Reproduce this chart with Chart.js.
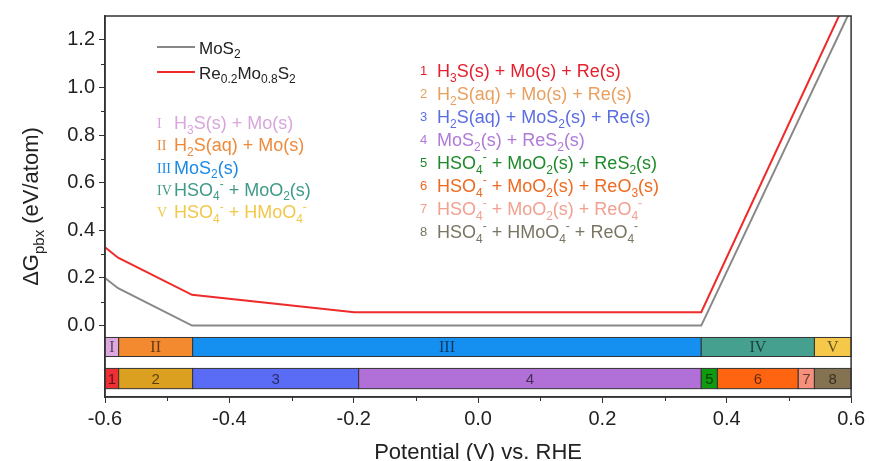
<!DOCTYPE html>
<html>
<head>
<meta charset="utf-8">
<script src="https://cdn.jsdelivr.net/npm/chart.js@4.4.1/dist/chart.umd.min.js"></script>
<style>
  html, body { margin: 0; padding: 0; background: #fff; }
  canvas { display: block; }
</style>
</head>
<body>
<canvas id="pbx" width="869" height="461"></canvas>
<script>
// Pourbaix decomposition energy vs potential

const FONT = '"Liberation Sans", Arial, sans-serif';
const SERIF = '"Liberation Serif", "Times New Roman", serif';

// line data
const mos2X = [-0.6, -0.579, -0.46, 0.359, 0.6];
const mos2Y = [0.2, 0.157, 0.0, 0.0, 1.33];
const reX = [-0.6, -0.579, -0.46, -0.199, 0.359, 0.6];
const reY = [0.329, 0.285, 0.129, 0.056, 0.056, 1.41];

// phase regions (boundaries in V)
const mos2Edges = [-0.6, -0.578, -0.459, 0.359, 0.541, 0.6];
const mos2Labels = ['I', 'II', 'III', 'IV', 'V'];
const mos2Colors = ['#dda8e0', '#f48a30', '#1590f0', '#45a090', '#f5c84a'];
const reEdges = [-0.6, -0.578, -0.459, -0.192, 0.359, 0.385, 0.515, 0.541, 0.6];
const reLabels = ['1', '2', '3', '4', '5', '6', '7', '8'];
const reColors = ['#ee2f35', '#dca020', '#5a6cf5', '#b070d8', '#109a10', '#ff6410', '#f7907a', '#857250'];

// axis ticks
const xTicks = [-0.6, -0.4, -0.2, 0.0, 0.2, 0.4, 0.6];
const xMinor = [-0.5, -0.3, -0.1, 0.1, 0.3, 0.5];
const yTicks = [0.0, 0.2, 0.4, 0.6, 0.8, 1.0, 1.2];
const yMinor = [0.1, 0.3, 0.5, 0.7, 0.9, 1.1];

// phase descriptions
const romanText = ['H_{3}S(s) + Mo(s)', 'H_{2}S(aq) + Mo(s)', 'MoS_{2}(s)', 'HSO_{4}^{-} + MoO_{2}(s)', 'HSO_{4}^{-} + HMoO_{4}^{-}'];
const romanTextColors = ['#d8a6dc', '#ee8a3a', '#1a8ae6', '#3f9a88', '#f0c84a'];
const reText = [
    'H_{3}S(s) + Mo(s) + Re(s)',
    'H_{2}S(aq) + Mo(s) + Re(s)',
    'H_{2}S(aq) + MoS_{2}(s) + Re(s)',
    'MoS_{2}(s) + ReS_{2}(s)',
    'HSO_{4}^{-} + MoO_{2}(s) + ReS_{2}(s)',
    'HSO_{4}^{-} + MoO_{2}(s) + ReO_{3}(s)',
    'HSO_{4}^{-} + MoO_{2}(s) + ReO_{4}^{-}',
    'HSO_{4}^{-} + HMoO_{4}^{-} + ReO_{4}^{-}'
];
const reTextColors = ['#e5202e', '#e8a060', '#5a6ee0', '#b07ad8', '#1f8a2a', '#ee6a20', '#f2a090', '#7a7462'];

// text with _{sub} and ^{sup}
function drawRich(ctx, str, x, y, size, color, family, draw) {
    const re = /([_^])\{([^}]*)\}|([^_^]+)/g;
    let m;
    ctx.fillStyle = color;
    ctx.textAlign = 'left';
    ctx.textBaseline = 'alphabetic';
    while ((m = re.exec(str))) {
        if (m[3]) {
            ctx.font = size + 'px ' + family;
            if (draw !== false) ctx.fillText(m[3], x, y);
            x += ctx.measureText(m[3]).width;
        } else {
            const s = Math.round(size * 0.68);
            ctx.font = s + 'px ' + family;
            const dy = m[1] === '_' ? size * 0.25 : -size * 0.42;
            if (draw !== false) ctx.fillText(m[2], x, y + dy);
            x += ctx.measureText(m[2]).width;
        }
    }
    return x;
}

const decor = {
    id: 'decor',
    afterDatasetsDraw(chart) {
        const ctx = chart.ctx;
        const xs = chart.scales.x, ys = chart.scales.y;
        const a = chart.chartArea;
        ctx.save();

        // phase bars
        function bars(edges, labels, colors, yTop, yBot, serif) {
            const t = ys.getPixelForValue(yTop), b = ys.getPixelForValue(yBot);
            for (let i = 0; i < labels.length; i++) {
                const l = xs.getPixelForValue(edges[i]), r = xs.getPixelForValue(edges[i + 1]);
                ctx.fillStyle = colors[i];
                ctx.fillRect(l, t, r - l, b - t);
                ctx.strokeStyle = '#333';
                ctx.lineWidth = 1;
                ctx.strokeRect(l, t, r - l, b - t);
                ctx.fillStyle = 'rgba(0,0,0,0.6)';
                ctx.font = serif ? '16px ' + SERIF : '15px ' + FONT;
                ctx.textAlign = 'center';
                ctx.textBaseline = 'middle';
                ctx.fillText(labels[i], (l + r) / 2, (t + b) / 2 + 1);
            }
        }
        bars(mos2Edges, mos2Labels, mos2Colors, -0.05, -0.13, true);
        bars(reEdges, reLabels, reColors, -0.18, -0.265, false);

        // frame
        ctx.strokeStyle = '#333';
        ctx.lineWidth = 1.5;
        ctx.strokeRect(a.left, a.top, a.right - a.left, a.bottom - a.top);

        // minor ticks
        ctx.lineWidth = 1;
        ctx.beginPath();
        xMinor.forEach(v => {
            const p = Math.round(xs.getPixelForValue(v)) + 0.5;
            ctx.moveTo(p, a.bottom);
            ctx.lineTo(p, a.bottom + 4);
        });
        yMinor.forEach(v => {
            const p = Math.round(ys.getPixelForValue(v)) + 0.5;
            ctx.moveTo(a.left, p);
            ctx.lineTo(a.left - 4, p);
        });
        ctx.stroke();

        // legend
        ctx.lineWidth = 2;
        ctx.strokeStyle = '#888';
        ctx.beginPath(); ctx.moveTo(157, 47); ctx.lineTo(195, 47); ctx.stroke();
        ctx.strokeStyle = '#ee2a2a';
        ctx.beginPath(); ctx.moveTo(157, 72); ctx.lineTo(195, 72); ctx.stroke();
        drawRich(ctx, 'MoS_{2}', 199, 54, 17, '#222', FONT);
        drawRich(ctx, 'Re_{0.2}Mo_{0.8}S_{2}', 199, 79, 17, '#222', FONT);

        // roman list
        romanText.forEach((s, i) => {
            const y = 123 + i * 22.3;
            ctx.fillStyle = romanTextColors[i];
            ctx.font = '14px ' + SERIF;
            ctx.textAlign = 'left';
            ctx.textBaseline = 'alphabetic';
            ctx.fillText(mos2Labels[i], 157, y + 5);
            drawRich(ctx, s, 174, y + 6, 18, romanTextColors[i], FONT);
        });

        // numbered list
        reText.forEach((s, i) => {
            const y = 71 + i * 23;
            ctx.fillStyle = reTextColors[i];
            ctx.font = '13px ' + FONT;
            ctx.textAlign = 'left';
            ctx.textBaseline = 'alphabetic';
            ctx.fillText(reLabels[i], 420, y + 4);
            drawRich(ctx, s, 437, y + 6, 18, reTextColors[i], FONT);
        });

        // axis titles
        ctx.fillStyle = '#222';
        const xt = 'Potential (V) vs. RHE';
        ctx.font = '22px ' + FONT;
        ctx.textAlign = 'center';
        ctx.textBaseline = 'alphabetic';
        ctx.fillText(xt, (a.left + a.right) / 2, 459);

        const yt = '\u0394G_{pbx} (eV/atom)';
        const w = drawRich(ctx, yt, 0, 0, 22, '#222', FONT, false);
        ctx.translate(38, (a.top + a.bottom) / 2);
        ctx.rotate(-Math.PI / 2);
        drawRich(ctx, yt, -w / 2, 0, 22, '#222', FONT);
        ctx.restore();
    }
};

new Chart(document.getElementById('pbx'), {
    type: 'line',
    data: {
        datasets: [
            {
                label: 'MoS2',
                data: mos2X.map((x, i) => ({ x: x, y: mos2Y[i] })),
                borderColor: '#888',
                borderWidth: 2,
                pointRadius: 0,
                tension: 0
            },
            {
                label: 'Re0.2Mo0.8S2',
                data: reX.map((x, i) => ({ x: x, y: reY[i] })),
                borderColor: '#ee2a2a',
                borderWidth: 2,
                pointRadius: 0,
                tension: 0
            }
        ]
    },
    options: {
        responsive: false,
        animation: false,
        devicePixelRatio: 1,
        layout: { padding: { top: 16, right: 14, left: 0, bottom: 0 } },
        plugins: { legend: { display: false }, tooltip: { enabled: false } },
        scales: {
            x: {
                type: 'linear',
                min: -0.6,
                max: 0.6,
                afterBuildTicks: s => { s.ticks = xTicks.map(v => ({ value: v })); },
                afterFit: s => { s.height = 64; },
                grid: { drawOnChartArea: false, drawTicks: true, tickLength: 6, tickColor: '#333' },
                border: { display: true, color: '#333', width: 1.5 },
                ticks: {
                    padding: 4,
                    color: '#222',
                    font: { family: FONT, size: 20 },
                    maxRotation: 0,
                    callback: v => v.toFixed(1)
                }
            },
            y: {
                type: 'linear',
                min: -0.3,
                max: 1.3,
                afterBuildTicks: s => { s.ticks = yTicks.map(v => ({ value: v })); },
                afterFit: s => { s.width = 105; },
                grid: { drawOnChartArea: false, drawTicks: true, tickLength: 6, tickColor: '#333' },
                border: { display: true, color: '#333', width: 1.5 },
                ticks: {
                    padding: 4,
                    color: '#222',
                    font: { family: FONT, size: 20 },
                    callback: v => v.toFixed(1)
                }
            }
        }
    },
    plugins: [decor]
});
</script>
</body>
</html>
